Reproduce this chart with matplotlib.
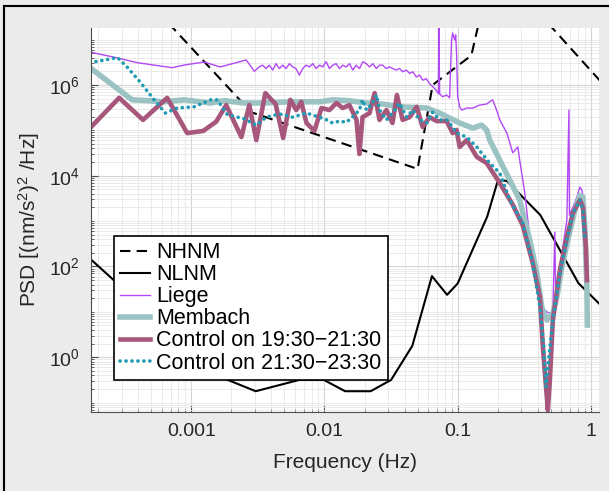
import matplotlib
matplotlib.use('Agg')
import matplotlib.pyplot as plt
from matplotlib.lines import Line2D
from matplotlib.ticker import LogLocator, FixedLocator, FixedFormatter, NullFormatter

plt.rcParams['font.family'] = ['Liberation Sans', 'DejaVu Sans']
plt.rcParams['mathtext.fontset'] = 'custom'
plt.rcParams['mathtext.rm'] = 'Liberation Sans'
plt.rcParams['mathtext.it'] = 'Liberation Sans:italic'
plt.rcParams['mathtext.bf'] = 'Liberation Sans:bold'

# ---------------- data ----------------
nhnm_f = [1e-5, 0.002818, 0.05, 0.0649, 0.1266, 0.1587, 0.2174, 0.2632, 1.25, 3.125, 4.545, 10.0]
nhnm_psd = [1.41e13, 2.51e5, 1.41e4, 1.0e6, 4.47e6, 7.94e7, 2.24e8, 1.58e8, 1.0e6, 8.91e6, 1.82e8, 7.08e8]

nlnm_f = [1e-5, 1e-4, 0.001667, 0.003049, 0.006494, 0.0099, 0.01429, 0.02222, 0.03165, 0.04566,
          0.0641, 0.0833, 0.1, 0.1667, 0.2, 0.2326, 0.4167, 0.8065, 1.25, 2.5, 5.88, 10.0]
nlnm_psd = [4.86e7, 649, 0.365, 0.178, 0.317, 0.316, 0.178, 0.178, 0.316, 1.78,
            61.2, 23.7, 42.2, 1259, 7762, 7762, 1365, 42.7, 12.0, 21.4, 21.4, 15.8]

liege_f = [1.74e-4, 2.73e-4, 3.93e-4, 7.2e-4, 8.86e-4, 1.25e-3, 1.65e-3, 2.0e-3, 2.59e-3, 2.98e-3,
           3.24e-3, 3.43e-3, 3.65e-3, 3.86e-3, 4.09e-3, 4.33e-3, 4.59e-3, 4.86e-3, 5.15e-3, 5.46e-3,
           5.78e-3, 6.12e-3, 6.48e-3, 6.87e-3, 7.28e-3, 7.71e-3, 8.17e-3, 8.66e-3, 9.17e-3, 9.71e-3,
           0.0103, 0.0109, 0.01155, 0.01224, 0.01297, 0.01374, 0.01456, 0.01542, 0.01633, 0.0173,
           0.01833, 0.0194, 0.0206, 0.0218, 0.0231, 0.0245, 0.0259, 0.0274, 0.0291, 0.0308,
           0.0326, 0.0346, 0.0366, 0.0388, 0.0411, 0.0436, 0.0461, 0.0489, 0.0518, 0.0548,
           0.0581, 0.0615, 0.0652, 0.0691, 0.0718, 0.0722, 0.0732, 0.077, 0.0827, 0.087,
           0.090, 0.0917, 0.0949, 0.0966, 0.0982, 0.1, 0.1035, 0.1072, 0.117, 0.13,
           0.146, 0.165, 0.174, 0.183, 0.196, 0.207, 0.234, 0.259, 0.283, 0.292,
           0.319, 0.336, 0.348, 0.366, 0.393, 0.414, 0.436, 0.467, 0.492, 0.518,
           0.536, 0.545, 0.565, 0.616, 0.66, 0.684, 0.69, 0.732, 0.785, 0.827,
           0.856, 0.886, 0.917]
liege_psd = [5.3e6, 4.0e6, 3.1e6, 2.4e6, 2.75e6, 3.2e6, 2.5e6, 2.9e6, 3.55e6, 2.0e6,
             2.5e6, 2.73e6, 2.3e6, 2.73e6, 2.13e6, 2.95e6, 2.3e6, 2.73e6, 2.3e6, 2.95e6,
             2.5e6, 2.3e6, 1.65e6, 2.3e6, 2.73e6, 2.5e6, 2.95e6, 2.3e6, 2.73e6, 2.5e6,
             3.25e6, 2.3e6, 2.73e6, 2.95e6, 2.3e6, 2.73e6, 2.5e6, 2.95e6, 2.13e6, 2.73e6,
             2.3e6, 3.25e6, 2.95e6, 2.5e6, 2.95e6, 2.3e6, 2.73e6, 2.73e6, 2.3e6, 2.5e6,
             2.3e6, 2.13e6, 2.3e6, 1.95e6, 2.13e6, 1.8e6, 1.95e6, 1.5e6, 1.65e6, 1.27e6,
             1.38e6, 1.07e6, 9.1e5, 7.6e5, 6.4e5, 3e7, 6.4e5, 5.5e5, 6.0e5, 5.2e5,
             9.8e6, 1.4e7, 9.8e6, 1.27e7, 4.5e6, 5.5e5, 3.3e5, 2.8e5, 3.1e5, 3.1e5,
             3.6e5, 3.8e5, 4.25e5, 4.7e5, 2.8e5, 1.7e5, 8.7e4, 3.2e4, 4.3e4, 2.2e4,
             4.15e3, 1.05e3, 445, 118, 50, 30, 12, 10, 9.3, 10.3,
             570, 14, 30, 270, 1.05e3, 2.8e5, 1.35e3, 2.0e3, 3.4e3, 5.6e3,
             4.8e3, 2.9e3, 1.05e3]

membach_f = [1.74e-4, 3.6e-4, 4.83e-4, 6.26e-4, 8.86e-4, 1.39e-3, 1.77e-3, 2.5e-3, 3.54e-3, 5.46e-3,
             9.17e-3, 0.0115, 0.0154, 0.0207, 0.0273, 0.0366, 0.0585, 0.0732, 0.1035, 0.13,
             0.151, 0.165, 0.174, 0.207, 0.246, 0.292, 0.348, 0.393, 0.428, 0.467,
             0.518, 0.555, 0.605, 0.671, 0.758, 0.827, 0.871, 0.901, 0.933, 0.94]
membach_psd = [2.4e6, 4.7e5, 4.5e5, 4.25e5, 4.7e5, 4.0e5, 4.5e5, 4.0e5, 4.0e5, 4.25e5,
               4.25e5, 4.7e5, 4.5e5, 4.0e5, 3.8e5, 3.3e5, 3.1e5, 2.4e5, 1.45e5, 1.12e5,
               1.3e5, 1.02e5, 6.1e4, 2.2e4, 8.0e3, 2.9e3, 380, 71, 12.6, 6.6,
               9.3, 21, 97, 380, 1.74e3, 3.7e3, 3.4e3, 630, 35, 5.1]

ctrl1_f = [1.77e-4, 2.88e-4, 4.35e-4, 6.6e-4, 9.33e-4, 1.23e-3, 1.54e-3, 1.83e-3, 2.38e-3, 2.73e-3,
           3.08e-3, 3.6e-3, 4.3e-3, 4.9e-3, 5.55e-3, 6.15e-3, 6.7e-3, 7.33e-3, 8.41e-3, 9.5e-3,
           0.0109, 0.0123, 0.0137, 0.0154, 0.0174, 0.0183, 0.0193, 0.0218, 0.0238, 0.0259,
           0.0292, 0.0324, 0.035, 0.0386, 0.0436, 0.0492, 0.0546, 0.0615, 0.0695, 0.0827,
           0.0917, 0.098, 0.1035, 0.117, 0.139, 0.165, 0.207, 0.259, 0.308, 0.366,
           0.414, 0.436, 0.467, 0.475, 0.492, 0.518, 0.585, 0.66, 0.732, 0.827,
           0.871, 0.917, 0.933]
ctrl1_psd = [1.18e5, 5.2e5, 1.7e5, 5.2e5, 8.7e4, 9.7e4, 1.55e5, 3.6e5, 7.1e4, 3.6e5,
             6.1e4, 6.6e5, 3.8e5, 6.8e4, 4.7e5, 2.8e5, 4.25e5, 1.45e5, 9.7e4, 3.1e5,
             2.8e5, 4.0e5, 3.1e5, 3.6e5, 1.7e5, 3.0e4, 1.95e5, 2.4e5, 6.6e5, 1.7e5,
             2.8e5, 1.45e5, 6.0e5, 1.7e5, 1.95e5, 3.3e5, 1.18e5, 1.95e5, 1.6e5, 1.6e5,
             8.7e4, 1.02e5, 4.3e4, 6.1e4, 2.6e4, 1.9e4, 6.9e3, 2.3e3, 800, 118,
             21, 1.66, 0.13, 0.068, 0.31, 6.6, 83, 445, 1.5e3, 2.9e3,
             2.0e3, 270, 50]

ctrl2_f = [1.74e-4, 2.8e-4, 3.3e-4, 4.2e-4, 5.27e-4, 6.4e-4, 7.85e-4, 1.05e-3, 1.4e-3, 1.57e-3,
           1.87e-3, 2.5e-3, 3.08e-3, 3.66e-3, 4.59e-3, 5.74e-3, 7.33e-3, 9.17e-3, 0.0104, 0.0115,
           0.013, 0.0146, 0.0162, 0.0183, 0.0193, 0.0207, 0.023, 0.0246, 0.0259, 0.0292,
           0.0324, 0.0366, 0.0414, 0.0459, 0.0518, 0.0585, 0.0649, 0.0732, 0.0827, 0.0917,
           0.098, 0.117, 0.139, 0.174, 0.207, 0.246, 0.308, 0.366, 0.414, 0.443,
           0.459, 0.475, 0.518, 0.585, 0.66, 0.732, 0.827, 0.871, 0.901]
ctrl2_psd = [3.1e6, 4.0e6, 2.5e6, 1.1e6, 4.7e5, 2.4e5, 3.1e5, 3.3e5, 4.7e5, 4.7e5,
             2.2e5, 1.8e5, 1.3e5, 1.95e5, 2.3e5, 1.95e5, 2.4e5, 1.95e5, 1.7e5, 1.45e5,
             1.6e5, 1.5e5, 1.95e5, 2.8e5, 4.7e5, 2.8e5, 4.0e5, 6.0e5, 2.8e5, 1.7e5,
             2.4e5, 4.0e5, 1.95e5, 2.8e5, 1.7e5, 1.45e5, 2.5e5, 1.7e5, 1.7e5, 1.18e5,
             8.7e4, 7.1e4, 4.3e4, 1.9e4, 1.15e4, 2.9e3, 900, 118, 12.6, 1.66,
             0.22, 0.60, 6.6, 71, 380, 1.5e3, 2.9e3, 1.74e3, 380]

series_labels = ['NHNM', 'NLNM', 'Liege', 'Membach',
                 'Control on 19:30\u221221:30', 'Control on 21:30\u221223:30']
xtick_vals = [0.001, 0.01, 0.1, 1]
xtick_labels = ['0.001', '0.01', '0.1', '1']
ytick_vals = [1, 1e2, 1e4, 1e6]

# ---------------- figure ----------------
W, H = 609, 491
fig = plt.figure(figsize=(W / 100, H / 100), dpi=100, facecolor='#EBEBEB')
ax = fig.add_axes([91 / W, 1 - 412 / H, 508 / W, 384 / H])
ax.set_facecolor('white')

ax.plot(nhnm_f, nhnm_psd, color='black', lw=1.5, ls=(0, (5, 3)), label=series_labels[0])
ax.plot(nlnm_f, nlnm_psd, color='black', lw=1.5, label=series_labels[1])
ax.plot(liege_f, liege_psd, color='#B347F5', lw=1.0, label=series_labels[2])
ax.plot(membach_f, membach_psd, color='#9CC3C4', lw=4.0, label=series_labels[3],
        solid_joinstyle='round')
ax.plot(ctrl1_f, ctrl1_psd, color='#A6577B', lw=3.3, label=series_labels[4],
        solid_joinstyle='round')
ax.plot(ctrl2_f, ctrl2_psd, color='#1F9BB3', lw=2.6, ls=(0, (0.05, 1.6)),
        dash_capstyle='round', label=series_labels[5])

ax.set_xscale('log')
ax.set_yscale('log')
ax.set_xlim(1.77e-4, 1.15)
ax.set_ylim(0.062, 1.8e7)

ax.xaxis.set_major_locator(FixedLocator(xtick_vals))
ax.xaxis.set_major_formatter(FixedFormatter(xtick_labels))
ax.xaxis.set_minor_locator(LogLocator(base=10, subs=tuple(range(1, 10)), numticks=50))
ax.xaxis.set_minor_formatter(NullFormatter())
ax.yaxis.set_major_locator(FixedLocator(ytick_vals))
ax.yaxis.set_minor_locator(LogLocator(base=10, subs=tuple(range(1, 10)), numticks=50))
ax.yaxis.set_minor_formatter(NullFormatter())

ax.grid(which='major', color='#D4D4D4', lw=0.8)
ax.grid(which='minor', color='#E6E6E6', lw=0.6)
ax.set_axisbelow(True)

for s in ['top', 'right']:
    ax.spines[s].set_visible(False)
for s in ['left', 'bottom']:
    ax.spines[s].set_color('#4D4D4D')
    ax.spines[s].set_linewidth(0.8)

ax.tick_params(which='both', direction='in', colors='#4D4D4D', labelcolor='#262626')
ax.tick_params(which='major', length=5, labelsize=14, pad=8)
ax.tick_params(which='minor', length=2.5)

ax.set_xlabel('Frequency (Hz)', fontsize=15, color='#262626', labelpad=9)
ax.set_ylabel(r'PSD [(nm/s$^{2}$)$^{2}$ /Hz]', fontsize=15, color='#262626', labelpad=5)

leg = ax.legend(loc='lower left', bbox_to_anchor=(23 / 508, 32 / 384), borderaxespad=0,
                frameon=True, fancybox=False, edgecolor='black', framealpha=1,
                fontsize=15.5, handlelength=1.35, handletextpad=0.3, labelspacing=0.05,
                borderpad=0.3)
leg.get_frame().set_linewidth(1.2)

# figure frame lines (top and left)
fig.add_artist(Line2D([4 / W, 4 / W], [0, 1 - 6 / H], transform=fig.transFigure,
                      color='black', lw=1.5))
fig.add_artist(Line2D([4 / W, 1], [1 - 6 / H, 1 - 6 / H], transform=fig.transFigure,
                      color='black', lw=1.5))

fig.savefig('out.png', dpi=100, facecolor=fig.get_facecolor())
